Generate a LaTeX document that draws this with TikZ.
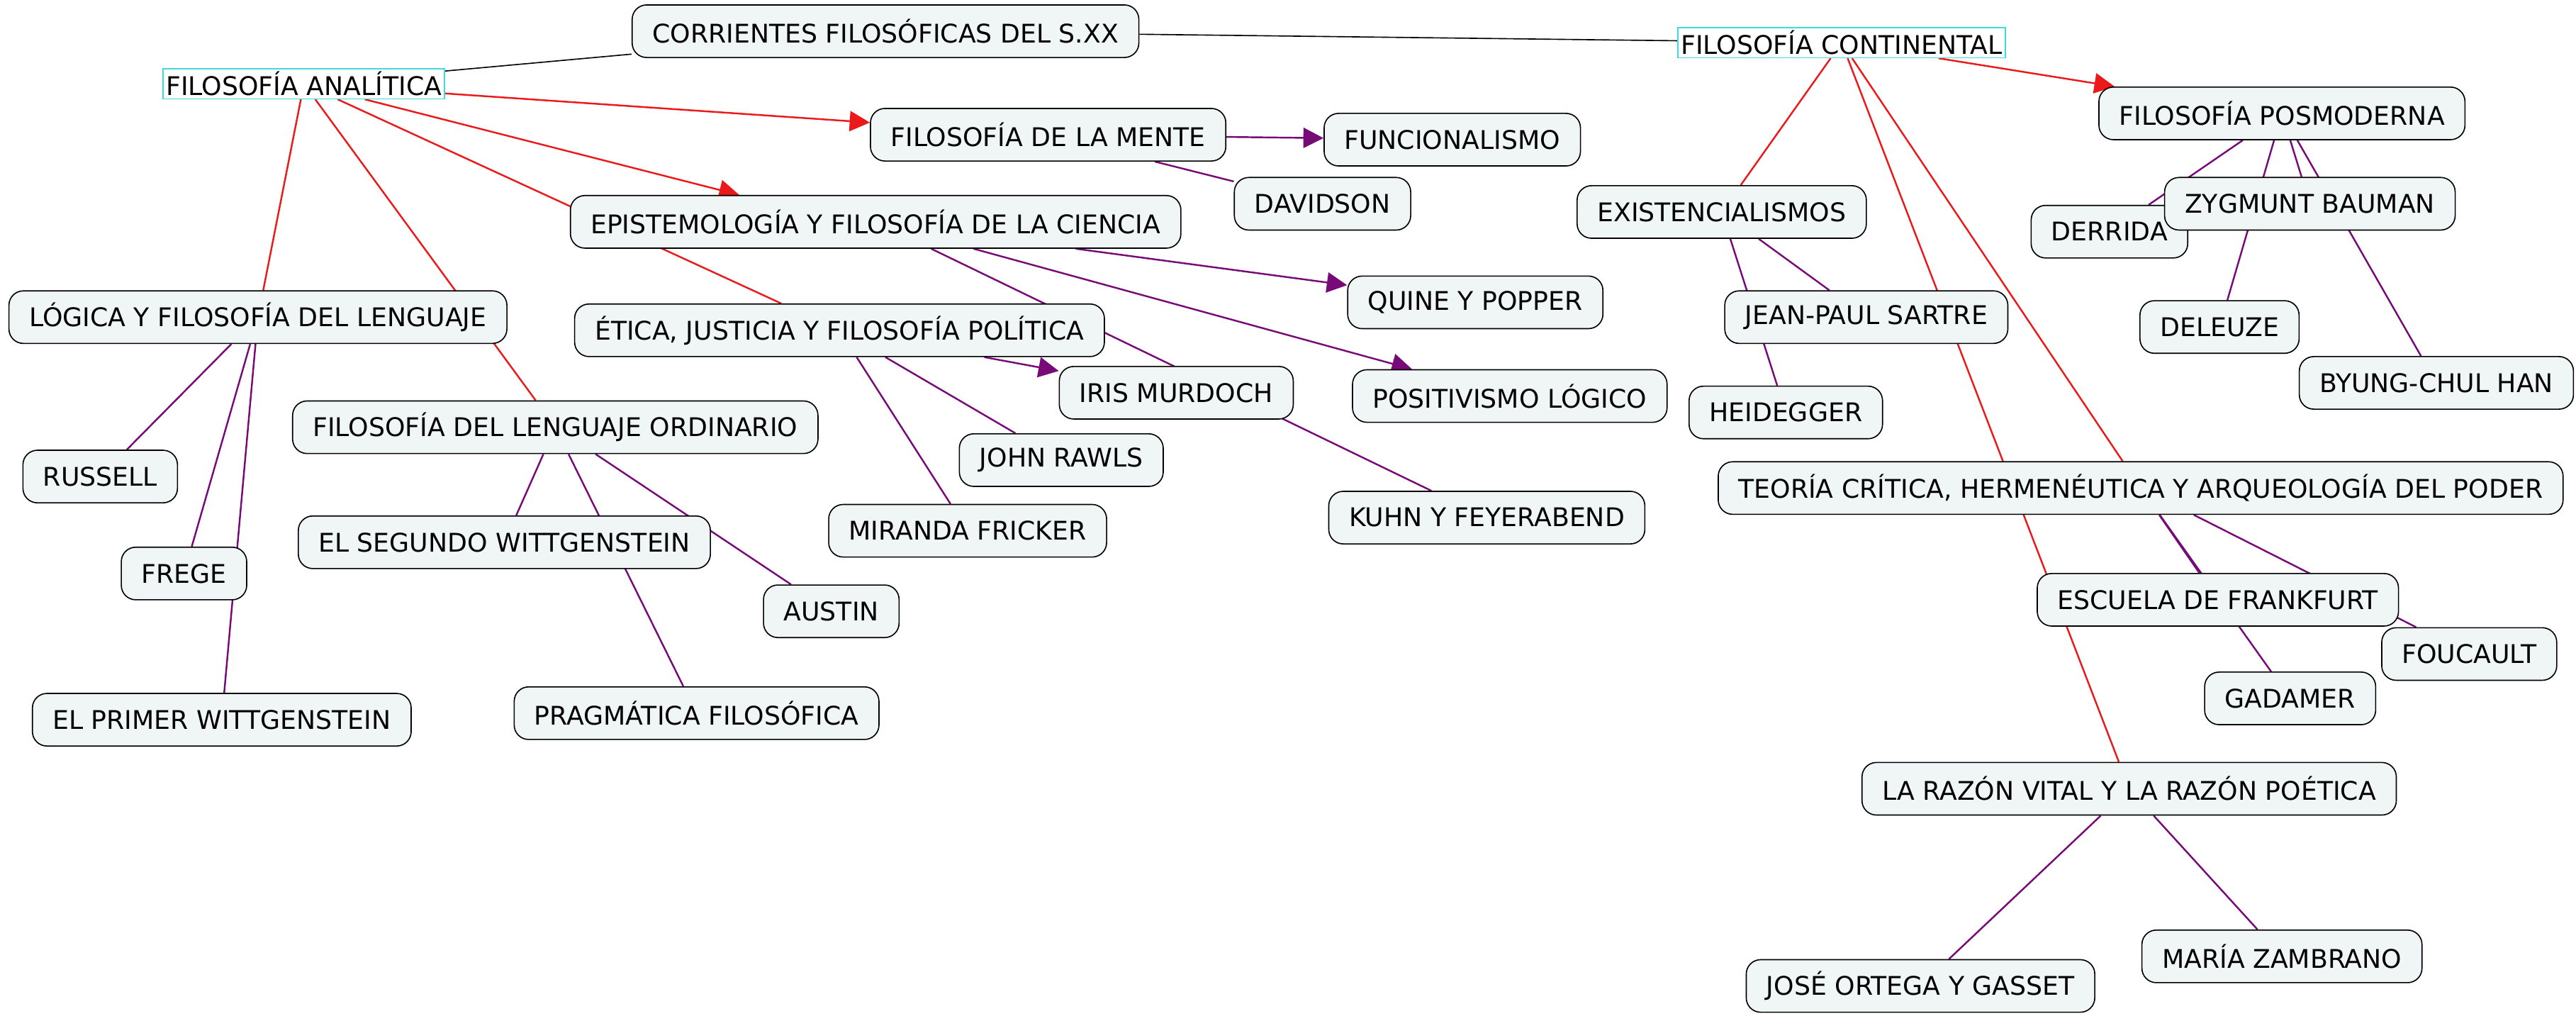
\documentclass[tikz,border=0pt]{standalone}
\usepackage{fontspec}
\setmainfont{DejaVu Sans}
\usetikzlibrary{arrows.meta}
\usetikzlibrary{backgrounds}
\definecolor{rojo}{RGB}{235,25,25}
\definecolor{morado}{RGB}{120,10,120}
\definecolor{caja}{RGB}{240,245,246}
\definecolor{cian}{RGB}{60,220,225}
\tikzset{
  concepto/.style={draw=black,fill=caja,rounded corners=5pt,minimum height=0.64cm,inner xsep=7pt,font=\fontsize{8.9}{10}\selectfont},
  raiz/.style={draw=cian,fill=white,inner sep=1pt,minimum height=0.36cm,font=\fontsize{8.9}{10}\selectfont},
  rl/.style={draw=rojo,line width=0.6pt},
  ra/.style={rl,-{Triangle[length=7pt,width=7pt]}},
  ml/.style={draw=morado,line width=0.6pt},
  ma/.style={ml,-{Triangle[length=7pt,width=7pt]}}
}
\begin{document}
\begin{tikzpicture}[x=0.02cm,y=-0.02cm]
      \useasboundingbox (0,0) rectangle (1568,621.3);
      \node[concepto](cor) at (539,19) {CORRIENTES FILOSÓFICAS DEL S.XX};
      \node[raiz](ana) at (185,51) {FILOSOFÍA ANALÍTICA};
      \node[raiz](con) at (1121,26) {FILOSOFÍA CONTINENTAL};
      %% analitica
      \node[concepto](men) at (638,82) {FILOSOFÍA DE LA MENTE};
      \node[concepto](fun) at (884,85) {FUNCIONALISMO};
      \node[concepto](dav) at (805,124) {DAVIDSON};
      \node[concepto](epi) at (533,135) {EPISTEMOLOGÍA Y FILOSOFÍA DE LA CIENCIA};
      \node[concepto](qui) at (898,184) {QUINE Y POPPER};
      \node[concepto](eti) at (511,201) {ÉTICA, JUSTICIA Y FILOSOFÍA POLÍTICA};
      \node[concepto](iri) at (716,239) {IRIS MURDOCH};
      \node[concepto](pos) at (919,241) {POSITIVISMO LÓGICO};
      \node[concepto](raw) at (646,280) {JOHN RAWLS};
      \node[concepto](kuh) at (905,315) {KUHN Y FEYERABEND};
      \node[concepto](fri) at (589,323) {MIRANDA FRICKER};
      \node[concepto](log) at (157,193) {LÓGICA Y FILOSOFÍA DEL LENGUAJE};
      \node[concepto](ord) at (338,260) {FILOSOFÍA DEL LENGUAJE ORDINARIO};
      \node[concepto](rus) at (61,290) {RUSSELL};
      \node[concepto](fre) at (112,349) {FREGE};
      \node[concepto](seg) at (307,330) {EL SEGUNDO WITTGENSTEIN};
      \node[concepto](aus) at (506,372) {AUSTIN};
      \node[concepto](pri) at (135,438) {EL PRIMER WITTGENSTEIN};
      \node[concepto](pra) at (424,434) {PRAGMÁTICA FILOSÓFICA};
      %% continental
      \node[concepto](pmo) at (1389,69) {FILOSOFÍA POSMODERNA};
      \node[concepto](exi) at (1048,129) {EXISTENCIALISMOS};
      \node[concepto](der) at (1284,141) {DERRIDA};
      \node[concepto](zyg) at (1406,124) {ZYGMUNT BAUMAN};
      \node[concepto](sar) at (1136,193) {JEAN-PAUL SARTRE};
      \node[concepto](del) at (1351,199) {DELEUZE};
      \node[concepto](byu) at (1483,233) {BYUNG-CHUL HAN};
      \node[concepto](hei) at (1087,251) {HEIDEGGER};
      \node[concepto](teo) at (1303,297) {TEORÍA CRÍTICA, HERMENÉUTICA Y ARQUEOLOGÍA DEL PODER};
      \node[concepto](fra) at (1350,365) {ESCUELA DE FRANKFURT};
      \node[concepto](fou) at (1503,398) {FOUCAULT};
      \node[concepto](gad) at (1394,425) {GADAMER};
      \node[concepto](raz) at (1296,480) {LA RAZÓN VITAL Y LA RAZÓN POÉTICA};
      \node[concepto](ort) at (1169,600) {JOSÉ ORTEGA Y GASSET};
      \node[concepto](zam) at (1389,582) {MARÍA ZAMBRANO};
      \begin{scope}[on background layer]
        \draw(cor)--(ana);
        \draw(cor)--(con);
        \draw[ra](ana)--(men);
        \draw[ra](ana)--(epi.north west -| 450,0);
        \draw[rl](ana)--(eti);
        \draw[rl](ana)--(log);
        \draw[rl](ana)--(ord);
        \draw[ra](con)--(pmo);
        \draw[rl](con)--(exi);
        \draw[rl](con)--(teo);
        \draw[rl](con)--(raz);
        \draw[ma](men)--(fun);
        \draw[ml](men)--(dav);
        \draw[ma](epi)--(qui);
        \draw[ma](epi)--(pos);
        \draw[ml](epi)--(kuh);
        \draw[ma](eti)--(iri);
        \draw[ml](eti)--(raw);
        \draw[ml](eti)--(fri);
        \draw[ml](log)--(rus);
        \draw[ml](log)--(fre);
        \draw[ml](log)--(pri);
        \draw[ml](ord)--(seg);
        \draw[ml](ord)--(aus);
        \draw[ml](ord)--(pra);
        \draw[ml](pmo)--(der);
        \draw[ml](pmo)--(zyg);
        \draw[ml](pmo)--(del);
        \draw[ml](pmo)--(byu);
        \draw[ml](exi)--(sar);
        \draw[ml](exi)--(hei);
        \draw[ml](teo)--(fra);
        \draw[ml](teo)--(fou);
        \draw[ml](teo)--(gad);
        \draw[ml](raz)--(ort);
        \draw[ml](raz)--(zam);
      \end{scope}
    \end{tikzpicture}
\end{document}
